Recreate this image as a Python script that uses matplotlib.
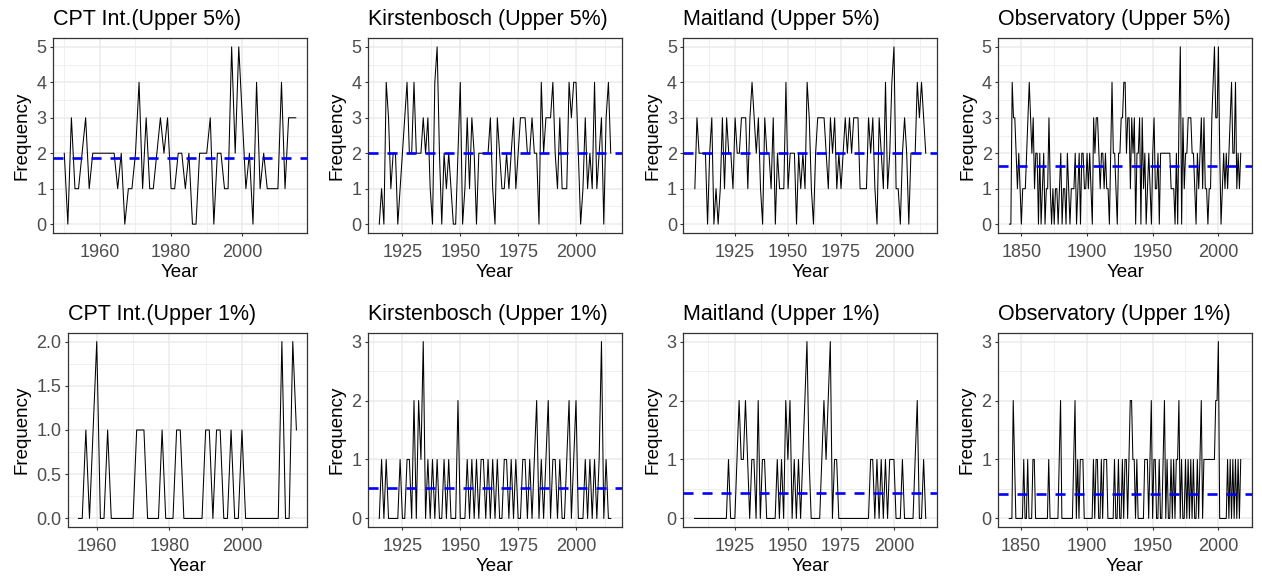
import matplotlib
matplotlib.use("Agg")
import matplotlib.pyplot as plt
from matplotlib.ticker import FixedLocator, FormatStrFormatter
import numpy as np

plt.rcParams['font.family'] = ['Liberation Sans', 'DejaVu Sans']

# ---- data (annual counts) ----
cpt_start = 1950
cpt_5 = [2, 0, 3, 1, 1, 2, 3, 1, 2, 2,
         2, 2, 2, 2, 2, 1, 2, 0, 1, 1,
         2, 4, 1, 3, 1, 1, 2, 3, 2, 3,
         1, 1, 2, 2, 1, 2, 0, 0, 2, 2,
         2, 3, 0, 2, 2, 1, 1, 5, 2, 5,
         3, 1, 2, 0, 4, 1, 2, 1, 1, 1,
         1, 4, 1, 3, 3, 3]

kirst_start = 1915
kirst_5 = [0, 1, 0, 4, 3, 1, 2, 2, 0, 1,
           2, 3, 4, 2, 2, 4, 2, 2, 2, 3,
           2, 3, 1, 0, 4, 5, 2, 0, 2, 1,
           2, 1, 0, 0, 2, 4, 0, 1, 3, 1,
           3, 2, 0, 2, 2, 2, 2, 2, 3, 1,
           0, 3, 2, 1, 1, 2, 1, 2, 3, 1,
           2, 3, 3, 3, 2, 2, 3, 2, 2, 0,
           4, 2, 3, 3, 3, 4, 2, 1, 3, 1,
           1, 1, 4, 3, 4, 4, 2, 0, 1, 3,
           1, 2, 1, 4, 1, 2, 3, 0, 3, 4,
           2]

mait_start = 1906
mait_5 = [1, 3, 2, 2, 2, 2, 0, 2, 3, 0,
          1, 0, 1, 3, 1, 3, 2, 2, 1, 3,
          2, 2, 3, 3, 3, 1, 3, 4, 3, 2,
          3, 1, 0, 3, 2, 2, 1, 3, 0, 2,
          1, 1, 1, 4, 1, 2, 2, 2, 0, 2,
          1, 2, 1, 4, 3, 1, 0, 2, 3, 3,
          3, 3, 2, 1, 3, 2, 3, 1, 2, 1,
          2, 3, 2, 3, 2, 3, 3, 3, 1, 1,
          1, 1, 3, 2, 3, 1, 0, 3, 2, 1,
          4, 1, 2, 4, 5, 1, 1, 0, 2, 3,
          2, 0, 2, 2, 2, 4, 3, 4, 3, 2]

obs_start = 1841
obs_5 = [0, 0, 4, 3, 3, 2, 1, 2, 1, 0,
         1, 1, 1, 2, 3, 4, 3, 2, 3, 1,
         2, 2, 0, 2, 0, 1, 2, 0, 1, 1,
         3, 1, 0, 1, 0, 1, 1, 0, 1, 2,
         0, 1, 1, 0, 2, 1, 0, 1, 1, 1,
         2, 0, 1, 2, 0, 2, 2, 1, 1, 2,
         1, 2, 1, 0, 3, 2, 3, 3, 2, 1,
         2, 2, 1, 2, 1, 1, 0, 2, 4, 2,
         2, 1, 0, 2, 2, 3, 3, 4, 4, 2,
         3, 3, 1, 3, 2, 3, 0, 2, 2, 3,
         0, 3, 1, 2, 0, 1, 2, 1, 0, 2,
         3, 1, 1, 2, 0, 2, 2, 2, 2, 2,
         2, 2, 2, 1, 1, 1, 0, 2, 0, 3,
         5, 0, 3, 1, 2, 2, 3, 3, 3, 2,
         2, 1, 0, 2, 1, 2, 3, 1, 3, 1,
         1, 0, 1, 1, 3, 4, 5, 3, 3, 5,
         2, 0, 1, 2, 1, 2, 1, 2, 3, 4,
         2, 2, 4, 1, 2, 1, 2]

cpt1_start = 1955
cpt_1 = [0, 0, 1, 0, 1, 2, 0, 0, 1, 0,
         0, 0, 0, 0, 0, 0, 1, 1, 1, 0,
         0, 0, 0, 1, 0, 0, 0, 1, 1, 0,
         0, 0, 0, 0, 0, 1, 1, 0, 1, 1,
         0, 0, 1, 0, 0, 1, 0, 0, 0, 0,
         0, 0, 0, 0, 0, 0, 2, 0, 0, 2,
         1]

kirst_1 = [0, 1, 0, 1, 0, 0, 0, 0, 0, 1,
           0, 0, 1, 1, 0, 2, 0, 2, 1, 3,
           0, 1, 0, 1, 0, 1, 0, 0, 1, 0,
           1, 0, 0, 0, 2, 0, 0, 0, 1, 0,
           1, 0, 1, 0, 1, 1, 0, 1, 0, 1,
           0, 1, 0, 0, 1, 1, 0, 1, 0, 1,
           0, 0, 1, 1, 0, 1, 0, 1, 2, 0,
           1, 0, 1, 2, 0, 1, 1, 0, 1, 0,
           0, 1, 2, 0, 1, 2, 0, 0, 0, 1,
           0, 1, 0, 1, 0, 1, 3, 0, 1, 0,
           0]

mait_1 = [0, 0, 0, 0, 0, 0, 0, 0, 0, 0,
          0, 0, 0, 0, 0, 0, 1, 0, 0, 0,
          1, 2, 1, 1, 2, 1, 0, 1, 1, 0,
          2, 0, 1, 1, 0, 0, 0, 0, 0, 1,
          0, 1, 0, 2, 1, 2, 0, 1, 0, 1,
          0, 1, 2, 3, 1, 0, 0, 0, 0, 0,
          1, 2, 1, 2, 3, 0, 1, 1, 0, 0,
          0, 0, 0, 0, 0, 0, 0, 0, 0, 0,
          0, 0, 0, 1, 1, 0, 1, 0, 1, 0,
          1, 0, 1, 1, 1, 0, 0, 0, 1, 0,
          0, 0, 0, 0, 1, 2, 0, 0, 1, 0]

obs_1 = [0, 0, 0, 2, 1, 0, 0, 0, 0, 0,
         0, 1, 0, 0, 1, 0, 0, 0, 1, 1,
         0, 0, 0, 0, 0, 0, 0, 0, 0, 0,
         1, 0, 0, 0, 0, 0, 0, 0, 1, 2,
         0, 0, 0, 0, 0, 0, 0, 0, 0, 1,
         2, 0, 1, 0, 1, 1, 1, 0, 0, 0,
         0, 0, 0, 0, 1, 0, 1, 1, 0, 0,
         1, 0, 1, 1, 1, 0, 0, 0, 0, 0,
         1, 0, 0, 1, 0, 0, 1, 0, 1, 1,
         0, 1, 2, 2, 1, 1, 0, 1, 0, 0,
         0, 0, 0, 1, 1, 1, 0, 1, 2, 0,
         1, 1, 0, 0, 1, 0, 0, 1, 2, 0,
         1, 0, 0, 1, 0, 1, 0, 1, 1, 2,
         0, 1, 0, 0, 1, 0, 1, 0, 1, 0,
         1, 0, 0, 1, 0, 1, 2, 0, 1, 1,
         1, 1, 1, 1, 1, 1, 1, 2, 2, 3,
         0, 0, 0, 0, 0, 0, 1, 0, 1, 0,
         1, 0, 1, 0, 1, 0, 1]

titles_5 = ["CPT Int.(Upper 5%)", "Kirstenbosch (Upper 5%)",
            "Maitland (Upper 5%)", "Observatory (Upper 5%)"]
titles_1 = ["CPT Int.(Upper 1%)", "Kirstenbosch (Upper 1%)",
            "Maitland (Upper 1%)", "Observatory (Upper 1%)"]
means_5 = [1.86, 2.0, 2.0, 1.63]
means_1 = [None, 0.52, 0.44, 0.42]

W, H = 1262, 580
fig = plt.figure(figsize=(W / 100, H / 100), dpi=100)

GRID = '#EBEBEB'
DARK = '#333333'


def panel(box, start, vals, title, mean, xmajor, ymax, yfmt='%d', ystep=1):
    l, t, r, b = box
    ax = fig.add_axes([l / W, 1 - b / H, (r - l) / W, (b - t) / H])
    years = np.arange(start, start + len(vals))
    ax.plot(years, vals, color='black', lw=0.75, zorder=3)
    if mean is not None:
        ax.axhline(mean, color='#0000FF', lw=1.9, ls=(0, (3.8, 3.4)), zorder=4)
    span = years[-1] - years[0]
    ax.set_xlim(years[0] - 0.05 * span, years[-1] + 0.05 * span)
    ax.set_ylim(-0.05 * ymax, 1.05 * ymax)
    step = xmajor[1] - xmajor[0]
    xminor = np.arange(xmajor[0] - step / 2, xmajor[-1] + step, step)
    ax.xaxis.set_major_locator(FixedLocator(xmajor))
    ax.xaxis.set_minor_locator(FixedLocator(xminor))
    ymaj = np.arange(0, ymax + 1e-9, ystep)
    ax.yaxis.set_major_locator(FixedLocator(ymaj))
    ax.yaxis.set_minor_locator(FixedLocator(ymaj[:-1] + ystep / 2))
    ax.yaxis.set_major_formatter(FormatStrFormatter(yfmt))
    ax.grid(which='major', color=GRID, lw=1.1, zorder=0)
    ax.grid(which='minor', color=GRID, lw=0.55, zorder=0)
    ax.set_axisbelow(True)
    for s in ax.spines.values():
        s.set_color(DARK)
        s.set_linewidth(0.9)
    ax.tick_params(which='major', length=2.5, width=0.8, color=DARK,
                   labelsize=13, labelcolor='#4D4D4D', pad=2)
    ax.tick_params(axis='x', which='major', pad=5.5)
    ax.tick_params(which='minor', length=0)
    ax.set_xlabel('Year', fontsize=13.5, labelpad=2)
    ax.set_ylabel('Frequency', fontsize=13.5, labelpad=4)
    ax.set_title(title, loc='left', fontsize=15.5, pad=9)
    return ax


lefts_top = [52.7, 367.7, 683.3, 998]
rights = [307.3, 622.3, 937.3, 1252.3]
lefts_bot = [67.7, 367.7, 683, 997.7]

xm_cpt = [1960, 1980, 2000]
xm_mid = [1925, 1950, 1975, 2000]
xm_obs = [1850, 1900, 1950, 2000]

top_series = [(cpt_start, cpt_5, xm_cpt), (kirst_start, kirst_5, xm_mid),
              (mait_start, mait_5, xm_mid), (obs_start, obs_5, xm_obs)]
bot_series = [(cpt1_start, cpt_1, xm_cpt), (kirst_start, kirst_1, xm_mid),
              (mait_start, mait_1, xm_mid), (obs_start, obs_1, xm_obs)]

for i in range(4):
    st, v, xm = top_series[i]
    panel((lefts_top[i], 38, rights[i], 233), st, v, titles_5[i], means_5[i], xm, 5)

for i in range(4):
    st, v, xm = bot_series[i]
    if i == 0:
        panel((lefts_bot[i], 332.7, rights[i], 527.3), st, v, titles_1[i], means_1[i],
              xm, 2, yfmt='%.1f', ystep=0.5)
    else:
        panel((lefts_bot[i], 332.7, rights[i], 527.3), st, v, titles_1[i], means_1[i],
              xm, 3)

fig.savefig('out.png', dpi=100, facecolor='white')
